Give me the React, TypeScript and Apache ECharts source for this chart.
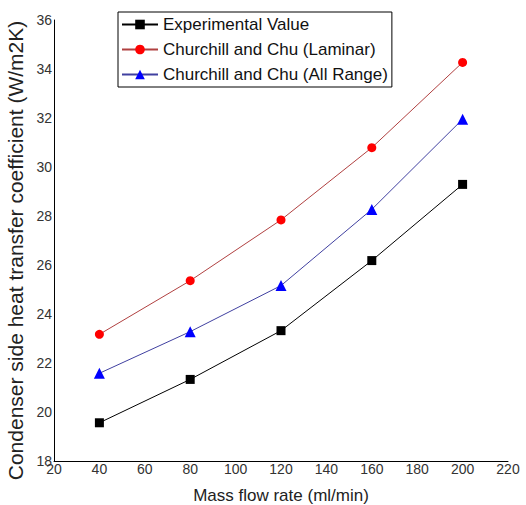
import React, { useEffect, useRef } from "react";
import * as echarts from "echarts";

const flowRates = [40, 80, 120, 160, 200];
const experimental = [19.56, 21.33, 23.32, 26.18, 29.29];
const laminar = [23.17, 25.36, 27.84, 30.79, 34.27];
const allRange = [21.58, 23.28, 25.16, 28.27, 31.95];

const seriesNames = [
  "Experimental Value",
  "Churchill and Chu (Laminar)",
  "Churchill and Chu (All Range)",
];

const font = "'Liberation Sans', Arial, sans-serif";

export default function App() {
  const ref = useRef<HTMLDivElement>(null);
  useEffect(() => {
    if (!ref.current) return;
    const chart = echarts.init(ref.current, null, { renderer: "svg" });
    const pair = (ys: number[]) => flowRates.map((x, i) => [x, ys[i]]);
    chart.setOption({
      animation: false,
      backgroundColor: "#ffffff",
      textStyle: { fontFamily: font },
      grid: { left: 54, right: 18, top: 20, bottom: 44, containLabel: false, outerBoundsMode: "none" },
      legend: {
        orient: "vertical",
        left: 118,
        top: 12,
        borderColor: "#000",
        borderWidth: 1,
        borderRadius: 0,
        padding: [4, 4, 4, 3],
        itemWidth: 36,
        itemHeight: 12,
        itemGap: 8,
        textStyle: { fontFamily: font, fontSize: 17, color: "#111" },
        data: seriesNames,
      },
      xAxis: {
        type: "value",
        min: 20,
        max: 220,
        interval: 20,
        name: "Mass flow rate (ml/min)",
        nameLocation: "middle",
        nameGap: 26,
        nameTextStyle: { fontFamily: font, fontSize: 17, color: "#222" },
        axisLine: { lineStyle: { color: "#000", width: 1 } },
        axisTick: { show: false },
        splitLine: { show: false },
        axisLabel: { fontFamily: font, fontSize: 14, color: "#333", margin: 1 },
      },
      yAxis: {
        type: "value",
        min: 18,
        max: 36,
        interval: 2,
        name: "Condenser side heat transfer coefficient (W/m2K)",
        nameLocation: "middle",
        nameGap: 15,
        nameTextStyle: { fontFamily: font, fontSize: 21, color: "#222", padding: [0, 20, 0, 0] },
        axisLine: { show: true, lineStyle: { color: "#000", width: 1 } },
        axisTick: { show: false },
        splitLine: { show: false },
        axisLabel: {
          fontFamily: font,
          fontSize: 14,
          color: "#333",
          margin: 2,
          verticalAlign: "middle",
          padding: [0, 0, 6, 0],
        },
      },
      series: [
        {
          name: seriesNames[0],
          type: "line",
          data: pair(experimental),
          symbol: "rect",
          symbolSize: 9,
          lineStyle: { color: "#000", width: 1 },
          itemStyle: { color: "#000" },
        },
        {
          name: seriesNames[1],
          type: "line",
          data: pair(laminar),
          symbol: "circle",
          symbolSize: 9,
          lineStyle: { color: "#b04040", width: 1 },
          itemStyle: { color: "#ff0000" },
        },
        {
          name: seriesNames[2],
          type: "line",
          data: pair(allRange),
          symbol: "triangle",
          symbolSize: 11,
          lineStyle: { color: "#4040a0", width: 1 },
          itemStyle: { color: "#0000ff" },
        },
      ],
    });
    return () => chart.dispose();
  }, []);
  return (
    <div
      ref={ref}
      style={{ position: "absolute", left: 0, top: 0, width: 526, height: 505 }}
    />
  );
}
